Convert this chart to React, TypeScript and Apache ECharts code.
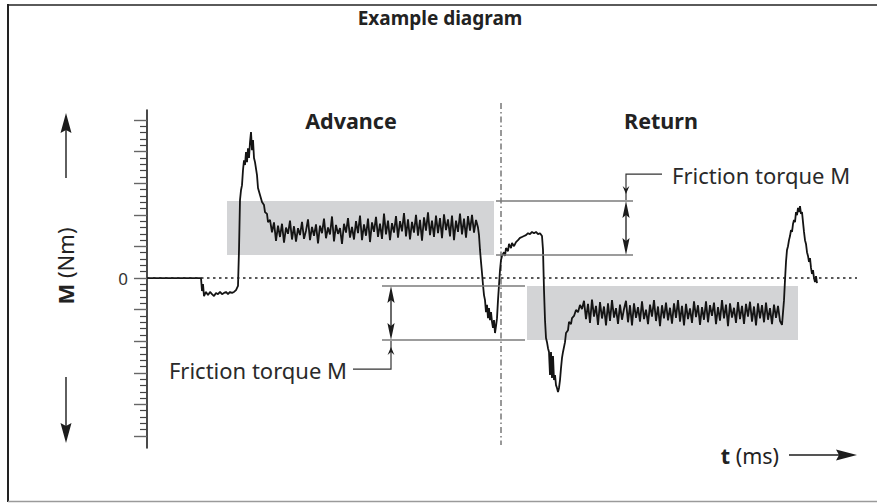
import React, { useEffect, useRef } from "react";
import * as echarts from "echarts";

// ---- time axis (ms) and torque axis (Nm, one major tick = 1) ----
const timeRange = [0, 713];
const torqueRange = [-5.38, 5.32];
const tickRange = [-5, 5];
const yTickLabels = ["0"];

// ---- traced signal: [t (ms), M (Nm)] ----
const approachTrace = [
  [0, 0], [54, 0], [55, -0.41], [56, -0.19], [57, -0.57], [59, -0.44], [61, -0.54], [63, -0.44],
  [65, -0.51], [67, -0.57], [69, -0.47], [71, -0.51], [73, -0.44], [75, -0.51], [77, -0.47],
  [79, -0.44], [81, -0.51], [83, -0.44], [85, -0.47], [87, -0.44], [89, -0.38], [91, -0.25],
  [92, 0.89], [93, 2.47], [94, 2.78], [95, 2.94], [96, 3.42], [97, 3.73], [98, 3.58], [99, 3.99],
  [100, 3.67], [101, 4.11], [102, 3.8], [103, 4.3], [104, 4.62], [105, 4.05], [106, 4.37],
  [107, 3.8], [108, 3.67], [110, 3.26], [111, 2.85], [113, 2.63], [115, 2.41], [117, 2.31],
  [118, 2.09], [120, 2.03], [121, 1.77],
];

// advance plateau, sampled every 2 ms from t = 123
const advanceBandStart = 123;
const advanceBand = [
  1.84, 1.45, 1.76, 1.18, 1.66, 1.3, 1.72, 1.12, 1.6, 1.4, 1.82, 1.22, 1.64, 1.15, 1.58, 1.36, 1.78, 1.24, 1.5, 1.86, 1.2,
  1.62, 1.34, 1.7, 1.1, 1.66, 1.42, 1.88, 1.26, 1.6, 1.38, 1.95, 1.16, 1.68, 1.4, 1.58, 1.08, 1.72, 1.44, 1.9, 1.28, 1.62,
  1.22, 1.8, 1.42, 1.98, 1.2, 1.7, 1.34, 1.88, 1.14, 1.76, 1.46, 1.94, 1.3, 1.72, 1.24, 2.04, 1.38, 1.82, 1.2, 1.74, 1.44,
  1.96, 1.28, 1.8, 1.48, 2.06, 1.32, 1.86, 1.22, 1.78, 1.44, 2.0, 1.34, 1.84, 1.18, 1.92, 1.5, 2.08, 1.36, 1.82, 1.3, 1.98,
  1.42, 1.9, 1.26, 2.02, 1.52, 1.86, 1.32, 1.98, 1.2, 1.82, 1.46, 2.04, 1.38, 1.88, 1.28, 1.96, 1.5, 2.0, 1.44, 1.84, 1.6,
];

const reversalTrace = [
  [332, 1.36], [333, 0.89], [334, 0.51], [335, 0.16], [336, -0.22], [337, -0.54], [338, -0.7], [339, -1.08],
  [340, -0.85], [341, -1.27], [342, -0.95], [343, -1.33], [344, -1.08], [345, -1.39], [346, -1.58],
  [347, -1.33], [348, -1.74], [349, -1.52], [350, -1.27], [351, -0.7], [352, -0.22], [353, 0.25],
  [354, 0.57], [355, 0.7], [357, 0.82], [358, 0.7], [359, 0.95], [361, 0.85], [362, 1.08], [364, 0.95],
  [365, 1.11], [367, 1.01], [369, 1.14], [371, 1.2], [373, 1.27], [375, 1.3], [377, 1.33], [379, 1.36],
  [381, 1.42], [383, 1.39], [385, 1.46], [387, 1.42], [389, 1.46], [391, 1.39], [393, 1.42], [395, 1.33],
  [396, 0.89], [397, -0.38], [398, -1.33], [399, -1.9], [400, -2.03], [401, -2.22], [402, -2.34],
  [403, -3.07], [404, -2.34], [405, -3.16], [406, -2.47], [407, -3.23], [408, -3.07], [409, -3.39],
  [410, -3.48], [411, -3.61], [412, -3.48], [413, -3.23], [414, -2.85], [415, -2.53], [416, -2.34],
  [418, -2.03], [419, -1.74], [421, -1.65], [422, -1.39], [424, -1.46], [425, -1.27], [427, -1.2],
  [429, -1.01], [431, -1.08], [433, -0.85], [435, -0.98],
];

// return plateau, sampled every 2 ms from t = 437
const returnBandStart = 437;
const returnBand = [
  -0.72, -1.3, -0.82, -1.42, -0.68, -1.22, -0.88, -1.48, -0.76, -1.28, -0.9, -1.5, -0.8, -1.36, -0.7, -1.25, -0.95, -1.45, -0.84, -1.32,
  -0.98, -0.72, -1.4, -0.86, -1.5, -0.8, -1.26, -0.92, -1.38, -0.74, -1.3, -1.0, -1.46, -0.84, -1.22, -0.7, -1.36, -0.9, -1.52, -0.86,
  -1.28, -0.78, -1.34, -0.94, -1.44, -0.8, -1.26, -0.7, -1.38, -0.88, -1.5, -0.82, -1.3, -0.96, -1.42, -0.74, -1.24, -0.86, -1.48, -0.92,
  -1.32, -0.74, -1.4, -0.86, -1.2, -0.78, -1.46, -0.92, -1.35, -0.7, -1.28, -0.84, -1.52, -0.8, -1.25, -0.94, -1.42, -0.76, -1.3, -0.88,
  -1.45, -0.82, -1.22, -0.75, -1.38, -0.9, -1.5, -0.8, -1.28, -0.86, -1.4, -0.78, -1.32, -0.95, -1.46, -0.84, -1.26, -0.88, -1.36, -1.48,
];
const bandStep = 2;

const endTrace = [
  [637, -0.7], [638, -0.06], [639, 0.51], [640, 0.89], [641, 1.01], [642, 1.2], [643, 1.33], [644, 1.52],
  [645, 1.46], [646, 1.71], [647, 1.84], [648, 1.77], [649, 2.09], [650, 1.99], [651, 2.22], [652, 2.09],
  [653, 2.28], [654, 2.03], [655, 2.09], [656, 1.77], [657, 1.46], [658, 1.2], [659, 1.08], [660, 0.82],
  [661, 0.7], [662, 0.51], [663, 0.63], [664, 0.32], [665, 0.13], [666, 0.25], [667, 0.0], [668, -0.13],
  [669, 0.06], [670, -0.16],
];

// ---- friction torque bands (shaded) ----
const phaseNames = ["Advance", "Return"];
const phaseLabelT = [204, 514];
const bandStart = [80, 380];
const bandEnd = [347, 651];
const bandHigh = [2.44, -0.25];
const bandLow = [0.73, -1.96];
const switchTime = 354; // boundary advance / return
const zeroLineEnd = 710;

// measuring lines for the friction torque
const measureStart = [349, 235];
const measureEnd = [486, 378];
const measureAt = [479, 244];
const leaderEndT = [515, 206];
const leaderLevel = [3.29, -2.88];
const leaderTip = [2.66, -2.18];
const annotationText = "Friction torque M";

const FONT = '"Noto Sans", "Open Sans", sans-serif';
const INK = "#1c1c1c";

export default function App() {
  const ref = useRef<HTMLDivElement>(null);

  useEffect(() => {
    if (!ref.current) return;
    const chart = echarts.init(ref.current, null, { renderer: "svg" });

    const signal: number[][] = [
      ...approachTrace,
      ...advanceBand.map((m, i) => [advanceBandStart + i * bandStep, m]),
      ...reversalTrace,
      ...returnBand.map((m, i) => [returnBandStart + i * bandStep, m]),
      ...endTrace,
    ];

    const gray = { color: "#7b7b7b", width: 1.5, type: "solid" as const };
    const measureLines: any[] = [];
    for (let k = 0; k < 2; k++) {
      [bandHigh[k], bandLow[k]].forEach((lvl) => {
        measureLines.push([
          { coord: [measureStart[k], lvl], lineStyle: gray },
          { coord: [measureEnd[k], lvl] },
        ]);
      });
    }

    chart.setOption({
      animation: false,
      grid: [
        { left: 147, right: 17, top: 110, height: 338 },
        { left: 147, right: 17, top: 120, height: 316 },
      ],
      xAxis: [
        { type: "value", gridIndex: 0, min: timeRange[0], max: timeRange[1], show: false },
        { type: "value", gridIndex: 1, min: timeRange[0], max: timeRange[1], show: false },
      ],
      yAxis: [
        {
          type: "value",
          gridIndex: 0,
          min: torqueRange[0],
          max: torqueRange[1],
          axisLine: { show: true, onZero: false, lineStyle: { color: INK, width: 1.6 } },
          axisTick: { show: false },
          axisLabel: { show: false },
          splitLine: { show: false },
        },
        {
          type: "value",
          gridIndex: 1,
          min: tickRange[0],
          max: tickRange[1],
          interval: 1,
          axisLine: { show: false },
          axisTick: { show: true, length: 13, lineStyle: { color: "#666", width: 1.4 } },
          minorTick: { show: true, splitNumber: 5, length: 7, lineStyle: { color: "#444", width: 1.2 } },
          axisLabel: {
            margin: 19,
            fontSize: 17,
            fontFamily: FONT,
            color: "#333",
            formatter: (v: number) => (yTickLabels.includes(String(v)) ? String(v) : ""),
          },
          splitLine: { show: false },
          minorSplitLine: { show: false },
        },
      ],
      series: [
        {
          name: "bands",
          type: "line",
          xAxisIndex: 0,
          yAxisIndex: 0,
          data: [],
          z: 1,
          silent: true,
          markArea: {
            silent: true,
            itemStyle: { color: "#d3d4d6" },
            data: phaseNames.map((_, k) => [
              { coord: [bandStart[k], bandHigh[k]] },
              { coord: [bandEnd[k], bandLow[k]] },
            ]),
          },
        },
        {
          name: "guides",
          type: "line",
          xAxisIndex: 0,
          yAxisIndex: 0,
          data: [],
          z: 2,
          silent: true,
          markLine: {
            silent: true,
            symbol: "none",
            label: { show: false },
            data: [
              [
                { coord: [timeRange[0], 0], lineStyle: { color: "#222", width: 1.7, type: [2.5, 3.5] } },
                { coord: [zeroLineEnd, 0] },
              ],
              ...measureLines,
            ],
          },
        },
        {
          name: "torque",
          type: "line",
          xAxisIndex: 0,
          yAxisIndex: 0,
          data: signal,
          z: 3,
          showSymbol: false,
          symbol: "none",
          lineStyle: { color: "#141414", width: 1.8 },
        },
      ],
    });

    const P = (t: number, m: number) => chart.convertToPixel({ gridIndex: 0 }, [t, m]) as number[];

    const arrowHead = (x: number, y: number, dir: number, h: number, w: number) => ({
      type: "polygon",
      silent: true,
      shape: { points: [[x, y], [x - w, y + dir * h], [x, y + dir * (h - 3)], [x + w, y + dir * h]] },
      style: { fill: INK },
    });

    const g: any[] = [];
    // frame
    g.push({ type: "line", shape: { x1: 8, y1: 5, x2: 877, y2: 5 }, style: { stroke: "#5a5a5a", lineWidth: 2 } });
    g.push({ type: "line", shape: { x1: 8, y1: 4, x2: 8, y2: 502 }, style: { stroke: "#222", lineWidth: 2 } });
    g.push({ type: "line", shape: { x1: 8, y1: 501.5, x2: 877, y2: 501.5 }, style: { stroke: "#9a9a9a", lineWidth: 1.5 } });

    // title
    g.push({
      type: "text", x: 440, y: 18,
      style: { text: "Example diagram", font: `bold 19px ${FONT}`, fill: "#222", align: "center", verticalAlign: "middle", textAlign: "center", textVerticalAlign: "middle" },
    });

    // boundary line
    const [sx] = P(switchTime, 0);
    g.push({
      type: "line", shape: { x1: sx, y1: 103, x2: sx, y2: 445 },
      style: { stroke: "#333", lineWidth: 1, lineDash: [6, 3, 1.5, 3] },
    });

    // phase labels
    phaseNames.forEach((name, k) => {
      const [cx] = P(phaseLabelT[k], 0);
      g.push({
        type: "text", x: cx, y: 120,
        style: { text: name, font: `bold 21.5px ${FONT}`, fill: "#222", align: "center", verticalAlign: "middle", textAlign: "center", textVerticalAlign: "middle" },
      });
    });

    // double arrows + leaders
    for (let k = 0; k < 2; k++) {
      const [x, yTop] = P(measureAt[k], bandHigh[k]);
      const [, yBot] = P(measureAt[k], bandLow[k]);
      g.push({ type: "line", shape: { x1: x, y1: yTop + 10, x2: x, y2: yBot - 10 }, style: { stroke: INK, lineWidth: 1.3 } });
      g.push(arrowHead(x, yTop, 1, 17, 3.6));
      g.push(arrowHead(x, yBot, -1, 17, 3.6));

      const [lx, ly] = P(leaderEndT[k], leaderLevel[k]);
      const [, tipY] = P(measureAt[k], leaderTip[k]);
      const dir = tipY > ly ? -1 : 1;
      g.push({
        type: "polyline",
        shape: { points: [[lx, ly], [x, ly], [x, tipY - dir * 6]] },
        style: { stroke: "#333", lineWidth: 1.2, fill: null },
      });
      g.push(arrowHead(x, tipY, dir, 8, 3.4));
      g.push({
        type: "text",
        x: k === 0 ? lx + 10 : lx - 6,
        y: ly + 1,
        style: {
          text: annotationText, font: `22px ${FONT}`, fill: "#2a2a2a",
          align: k === 0 ? "left" : "right", textAlign: k === 0 ? "left" : "right",
          verticalAlign: "middle", textVerticalAlign: "middle",
        },
      });
    }

    // y axis name + arrows
    g.push({
      type: "text", x: 65, y: 266, rotation: Math.PI / 2,
      style: {
        text: "{b|M} (Nm)", font: `22px ${FONT}`, fill: "#222",
        align: "center", verticalAlign: "middle", textAlign: "center", textVerticalAlign: "middle",
        rich: { b: { fontWeight: "bold", fontSize: 22, fontFamily: FONT, fill: "#222" } },
      },
    });
    g.push({ type: "line", shape: { x1: 66, y1: 178, x2: 66, y2: 128 }, style: { stroke: INK, lineWidth: 1.4 } });
    g.push(arrowHead(66, 113, 1, 20, 5.5));
    g.push({ type: "line", shape: { x1: 66, y1: 377, x2: 66, y2: 428 }, style: { stroke: INK, lineWidth: 1.4 } });
    g.push(arrowHead(66, 443, -1, 20, 5.5));

    // x axis name + arrow
    g.push({
      type: "text", x: 779, y: 455,
      style: {
        text: "{b|t} (ms)", font: `21.5px ${FONT}`, fill: "#222",
        align: "right", verticalAlign: "middle", textAlign: "right", textVerticalAlign: "middle",
        rich: { b: { fontWeight: "bold", fontSize: 21.5, fontFamily: FONT, fill: "#222" } },
      },
    });
    g.push({ type: "line", shape: { x1: 789, y1: 455, x2: 842, y2: 455 }, style: { stroke: INK, lineWidth: 1.4 } });
    g.push({
      type: "polygon",
      shape: { points: [[857, 455], [836, 449.5], [839, 455], [836, 460.5]] },
      style: { fill: INK },
    });

    chart.setOption({ graphic: { elements: g } });

    return () => chart.dispose();
  }, []);

  return <div ref={ref} style={{ position: "absolute", left: 0, top: 0, width: 877, height: 503 }} />;
}
